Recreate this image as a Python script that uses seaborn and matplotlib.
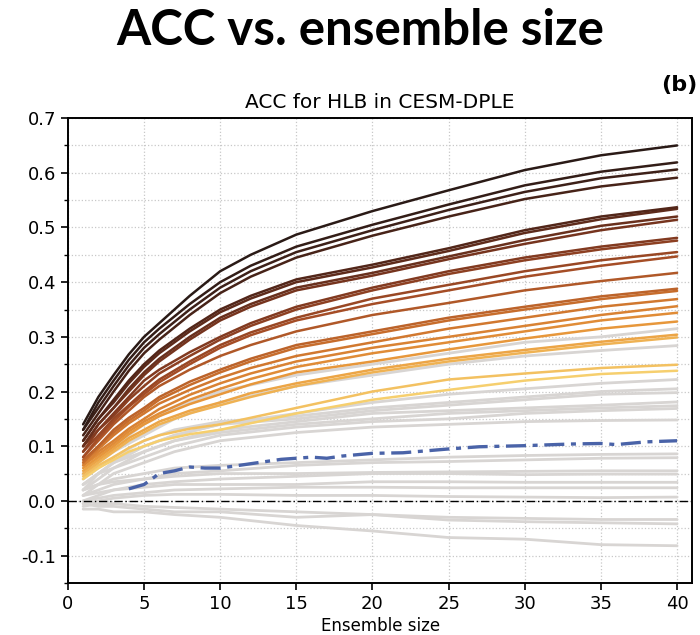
import numpy as np
import pandas as pd
import matplotlib
matplotlib.use("Agg")
import matplotlib.pyplot as plt
from matplotlib.colors import LinearSegmentedColormap
from matplotlib.ticker import MultipleLocator
import seaborn as sns

# ---------------- data ----------------
ens_size_col = [1, 2, 3, 4, 5, 6, 8, 10, 12, 15, 20, 25, 30, 35, 40]

colored_lines = [
    [.140, .190, .230, .268, .300, .325, .375, .420, .450, .487, .530, .568, .605, .632, .650],
    [.130, .180, .220, .258, .290, .315, .360, .400, .430, .465, .505, .542, .577, .602, .619],
    [.130, .170, .210, .248, .280, .305, .350, .390, .420, .455, .495, .532, .565, .590, .606],
    [.120, .160, .200, .238, .270, .295, .340, .380, .410, .445, .485, .520, .552, .575, .591],
    [.110, .150, .185, .220, .250, .275, .315, .350, .375, .405, .432, .462, .495, .520, .537],
    [.110, .150, .180, .215, .245, .270, .310, .345, .370, .400, .427, .457, .490, .515, .534],
    [.100, .140, .170, .205, .235, .260, .300, .335, .360, .390, .417, .447, .477, .503, .520],
    [.100, .140, .170, .200, .230, .255, .295, .330, .355, .385, .412, .442, .470, .495, .514],
    [.100, .130, .160, .190, .220, .240, .272, .300, .325, .355, .390, .420, .445, .465, .481],
    [.090, .130, .155, .185, .210, .233, .265, .295, .320, .350, .385, .415, .440, .460, .476],
    [.090, .120, .150, .175, .200, .222, .255, .285, .308, .335, .370, .395, .420, .440, .455],
    [.080, .115, .145, .172, .195, .217, .250, .280, .303, .330, .360, .385, .410, .430, .447],
    [.080, .110, .140, .165, .190, .210, .240, .265, .285, .310, .340, .362, .385, .402, .417],
    [.075, .100, .130, .152, .170, .190, .218, .240, .260, .285, .310, .335, .355, .374, .388],
    [.070, .100, .125, .147, .165, .185, .212, .235, .255, .280, .305, .330, .350, .369, .384],
    [.070, .095, .120, .142, .160, .178, .203, .225, .243, .265, .290, .315, .335, .355, .369],
    [.065, .090, .110, .132, .150, .168, .194, .215, .233, .255, .280, .300, .320, .340, .356],
    [.065, .085, .105, .127, .145, .160, .185, .205, .223, .245, .270, .290, .310, .330, .344],
    [.060, .080, .100, .122, .140, .155, .177, .195, .213, .235, .255, .277, .297, .315, .328],
    [.055, .075, .095, .115, .130, .145, .165, .180, .197, .215, .240, .260, .276, .291, .304],
    [.050, .070, .090, .110, .125, .140, .160, .175, .190, .210, .235, .255, .271, .286, .299],
    [.045, .065, .080, .097, .110, .120, .132, .140, .152, .170, .200, .222, .233, .243, .249],
    [.040, .060, .075, .090, .100, .110, .122, .130, .142, .160, .185, .203, .220, .232, .238],
]

ens_size_gray = [1, 2, 3, 5, 7, 10, 15, 20, 25, 30, 35, 40]

gray_lines = [
    [0.050, 0.080, 0.100, 0.140, 0.170, 0.200, 0.230, 0.250, 0.270, 0.290, 0.300, 0.315],
    [0.040, 0.070, 0.090, 0.120, 0.150, 0.180, 0.210, 0.230, 0.250, 0.265, 0.275, 0.284],
    [0.030, 0.050, 0.070, 0.100, 0.120, 0.140, 0.160, 0.180, 0.195, 0.205, 0.215, 0.222],
    [0.040, 0.060, 0.080, 0.110, 0.130, 0.145, 0.155, 0.170, 0.180, 0.190, 0.200, 0.205],
    [0.020, 0.050, 0.070, 0.100, 0.120, 0.140, 0.150, 0.165, 0.175, 0.185, 0.195, 0.198],
    [0.030, 0.050, 0.070, 0.090, 0.110, 0.130, 0.145, 0.160, 0.165, 0.170, 0.175, 0.181],
    [0.020, 0.040, 0.060, 0.090, 0.110, 0.125, 0.140, 0.150, 0.160, 0.165, 0.170, 0.174],
    [0.030, 0.050, 0.060, 0.080, 0.100, 0.120, 0.135, 0.145, 0.150, 0.160, 0.165, 0.169],
    [0.010, 0.030, 0.050, 0.070, 0.090, 0.110, 0.125, 0.135, 0.140, 0.145, 0.147, 0.148],
    [0.020, 0.030, 0.040, 0.050, 0.060, 0.065, 0.070, 0.075, 0.080, 0.083, 0.085, 0.086],
    [0.010, 0.020, 0.030, 0.040, 0.050, 0.055, 0.065, 0.070, 0.072, 0.075, 0.078, 0.079],
    [0.020, 0.030, 0.035, 0.040, 0.045, 0.050, 0.050, 0.052, 0.053, 0.054, 0.055, 0.055],
    [0.000, 0.010, 0.020, 0.030, 0.035, 0.040, 0.045, 0.050, 0.050, 0.048, 0.049, 0.049],
    [0.010, 0.015, 0.020, 0.025, 0.030, 0.030, 0.030, 0.035, 0.035, 0.034, 0.034, 0.034],
    [0.000, 0.005, 0.010, 0.015, 0.020, 0.022, 0.025, 0.025, 0.024, 0.024, 0.024, 0.024],
    [-0.005, 0.000, 0.005, 0.010, 0.012, 0.012, 0.010, 0.010, 0.008, 0.007, 0.006, 0.007],
    [-0.010, -0.005, -0.005, -0.010, -0.012, -0.015, -0.020, -0.025, -0.030, -0.032, -0.034, -0.034],
    [-0.005, -0.010, -0.010, -0.015, -0.020, -0.020, -0.030, -0.025, -0.035, -0.038, -0.040, -0.042],
    [-0.015, -0.015, -0.020, -0.020, -0.025, -0.030, -0.045, -0.055, -0.067, -0.070, -0.080, -0.082],
]

blue_x = [4, 5, 6, 7, 8, 9, 10, 12, 14, 15, 16, 17, 18, 20, 22, 25, 27, 30, 33, 35, 36, 38, 40]
blue_y = [0.022, 0.030, 0.050, 0.055, 0.062, 0.060, 0.060, 0.068, 0.076, 0.078, 0.080, 0.078,
          0.082, 0.087, 0.088, 0.095, 0.099, 0.101, 0.104, 0.105, 0.103, 0.108, 0.110]

x_ticks = [0, 5, 10, 15, 20, 25, 30, 35, 40]
y_ticks = [-0.1, 0.0, 0.1, 0.2, 0.3, 0.4, 0.5, 0.6, 0.7]
y_ticklabels = ["-0.1", "0.0", "0.1", "0.2", "0.3", "0.4", "0.5", "0.6", "0.7"]

# ---------------- plot ----------------
sns.set_style("white")
plt.rcParams["font.family"] = ["DejaVu Sans"]
plt.rcParams.update({"text.color": "black", "axes.labelcolor": "black",
                     "xtick.color": "black", "ytick.color": "black"})

fig = plt.figure(figsize=(7.0, 6.35), dpi=100)
ax = fig.add_axes([0.097, 0.082, 0.892, 0.732])

cmap = LinearSegmentedColormap.from_list(
    "acc", ["#2a1a16", "#4e2519", "#7a361f", "#a44d26", "#cf742e", "#e99a3c", "#f6cf6e"])
n_col = len(colored_lines)
col_colors = [cmap(i / (n_col - 1)) for i in range(n_col)]

for ys in gray_lines:
    df = pd.DataFrame({"x": ens_size_gray, "y": ys})
    sns.lineplot(data=df, x="x", y="y", ax=ax, color="#d8d5d3", lw=2.0, zorder=2)

for ys, c in zip(colored_lines[::-1], col_colors[::-1]):
    df = pd.DataFrame({"x": ens_size_col, "y": ys})
    sns.lineplot(data=df, x="x", y="y", ax=ax, color=c, lw=1.8, zorder=3)

dfb = pd.DataFrame({"x": blue_x, "y": blue_y})
sns.lineplot(data=dfb, x="x", y="y", ax=ax, color="#4a63a8", lw=2.4,
             linestyle=(0, (6, 2, 1.5, 2)), zorder=4)

ax.axhline(0.0, color="black", lw=1.0, linestyle=(0, (6, 2, 1, 2)), zorder=5)

ax.set_xlim(0, 41)
ax.set_ylim(-0.15, 0.7)
ax.set_xticks(x_ticks)
ax.set_yticks(y_ticks)
ax.set_yticklabels(y_ticklabels)
ax.yaxis.set_minor_locator(MultipleLocator(0.05))
ax.tick_params(axis="both", which="major", labelsize=13, length=5, width=1.2,
               direction="out", left=True, bottom=True, colors="black")
ax.tick_params(axis="y", which="minor", length=3, width=1.0, left=True)
ax.grid(True, which="major", color="#c8c8c8", linestyle=":", lw=0.9)
ax.grid(True, which="minor", axis="y", color="#c8c8c8", linestyle=":", lw=0.9)
for s in ax.spines.values():
    s.set_color("black")
    s.set_linewidth(1.4)

ax.set_xlabel("Ensemble size", fontsize=12, labelpad=3)
ax.set_ylabel("")
ax.set_title("ACC for HLB in CESM-DPLE", fontsize=14.5, pad=7)

fig.text(0.514, 0.952, "ACC vs. ensemble size", ha="center", va="center",
         fontsize=35.5, fontweight="bold", family=["Lato", "DejaVu Sans"], color="black")
fig.text(0.996, 0.866, "(b)", ha="right", va="center", fontsize=16, fontweight="bold",
         color="black")

fig.savefig("out.png", dpi=100)
